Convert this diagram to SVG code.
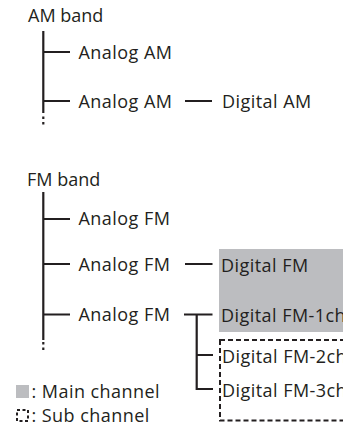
<svg xmlns="http://www.w3.org/2000/svg" width="343" height="428" viewBox="0 0 343 428">
<style>
text{font-family:"Open Sans","Noto Sans","Liberation Sans",sans-serif;font-size:18px;fill:#231f20;letter-spacing:0.45px}
text.t{letter-spacing:0}
.ln{stroke:#231f20;stroke-width:2.2;fill:none}
.dot{stroke:#231f20;stroke-width:2.2;fill:none;stroke-dasharray:2.5 3}
.main{fill:#bcbdc0}
.sub{fill:none;stroke:#231f20;stroke-width:2;stroke-dasharray:5 3}
</style>
<rect id="main-box" class="main" x="219" y="249" width="130" height="83"/>
<rect id="sub-box" class="sub" x="220" y="340" width="130" height="80.5"/>
<g id="connectors">
<path class="ln" d="M43.3 31V113M43.3 52H70M43.3 101H70M185 101H212"/>
<path class="dot" d="M43.3 116.5V127"/>
<path class="ln" d="M43.3 192V340M43.3 219H70M43.3 264H70M43.3 314.5H70M185 264H212.5M184 314.5H212.5M196.7 314.5V389H213M196.7 355H213"/>
<path class="dot" d="M43.3 342V352"/>
</g>
<g id="am-band"><text class="t" x="28" y="22">AM band</text></g>
<g id="am-analog1"><text x="78.5" y="58.5">Analog AM</text></g>
<g id="am-analog2"><text x="78.5" y="108">Analog AM</text></g>
<g id="am-digital"><text x="222" y="108">Digital AM</text></g>
<g id="fm-band"><text class="t" x="27" y="186">FM band</text></g>
<g id="fm-analog1"><text x="78.5" y="225">Analog FM</text></g>
<g id="fm-analog2"><text x="78.5" y="271">Analog FM</text></g>
<g id="fm-analog3"><text x="78.5" y="321">Analog FM</text></g>
<g id="fm-digital"><text x="221" y="271.5">Digital FM</text></g>
<g id="fm-digital1"><text x="221" y="321.5">Digital FM-1ch</text></g>
<g id="fm-digital2"><text x="222" y="363">Digital FM-2ch</text></g>
<g id="fm-digital3"><text x="222" y="396.5">Digital FM-3ch</text></g>
<g id="legend">
<rect class="main" x="16" y="385" width="13" height="13"/>
<text x="31.5" y="397.5">: Main channel</text>
<rect x="17" y="410" width="11" height="11" fill="none" stroke="#231f20" stroke-width="2" stroke-dasharray="3 2.5"/>
<text x="31.5" y="422">: Sub channel</text>
</g>
</svg>
